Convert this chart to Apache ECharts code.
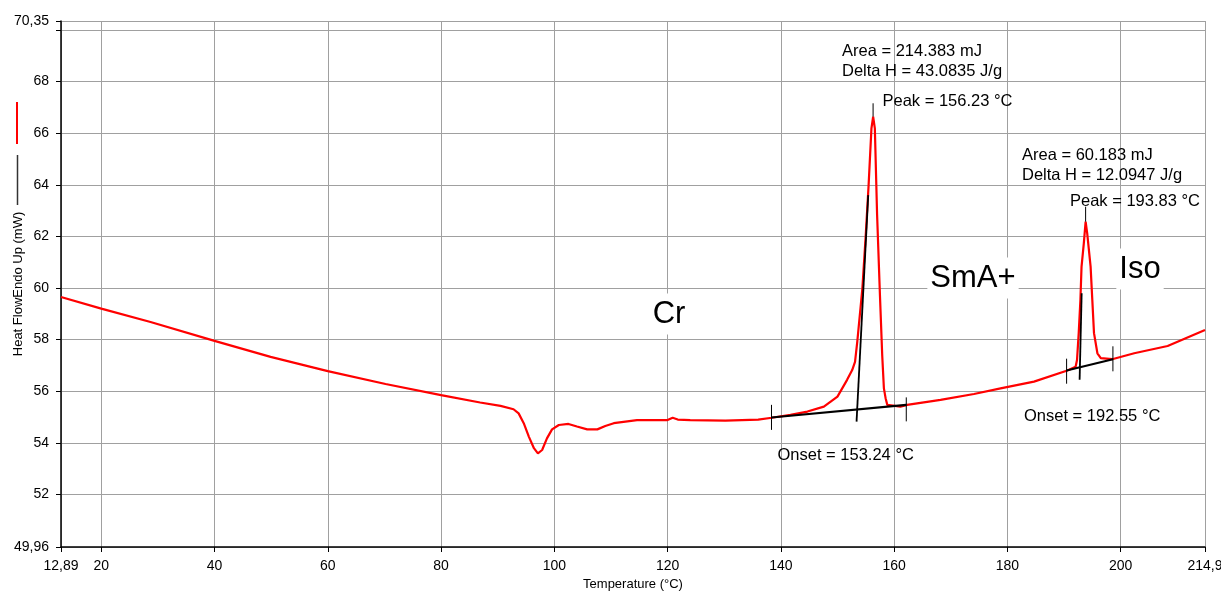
<!DOCTYPE html>
<html><head><meta charset="utf-8">
<script src="https://cdn.jsdelivr.net/npm/echarts@6/dist/echarts.min.js"></script>
<style>html,body{margin:0;padding:0;background:#fff}#c{width:1221px;height:595px}</style>
</head><body><div id="c"></div>
<script>
// DSC curve: temperature (°C) vs heat flow (mW)
const temperature = [12.89, 20, 28.7, 40, 49.9, 60, 70.2, 80, 86.9, 90.5, 92.8, 93.7, 94.6, 95.5, 96.4, 97.1, 97.85, 98.7, 99.6, 100.8,
  102.5, 104.0, 105.8, 107.6, 109.0, 110.5, 112.9, 114.6, 120, 120.9, 121.8, 124, 130.2, 136, 138.4, 141.7, 144.7, 147.6, 150.0, 151.7,
  152.6, 153.1, 153.5, 154.4, 154.96, 155.5, 156.0, 156.3, 156.6, 157.0, 157.5, 157.9, 158.2, 158.5, 158.8, 159.1, 161.1, 162.3, 168.2, 174.1,
  178.8, 184.7, 190.6, 192.05, 192.3, 192.6, 192.9, 193.1, 193.5, 193.82, 194.1, 194.7, 195.0, 195.3, 195.9, 196.5, 198.5, 202.4, 208.3, 214.9];
const heatFlow = [59.65, 59.2, 58.68, 57.95, 57.33, 56.78, 56.28, 55.85, 55.56, 55.43, 55.3, 55.14, 54.76, 54.24, 53.79, 53.59, 53.72, 54.17, 54.52, 54.69,
  54.73, 54.63, 54.52, 54.52, 54.65, 54.76, 54.83, 54.88, 54.88, 54.97, 54.9, 54.88, 54.86, 54.9, 54.97, 55.08, 55.21, 55.4, 55.79, 56.44,
  56.82, 57.14, 57.92, 59.99, 61.93, 63.99, 66.19, 66.64, 66.19, 62.83, 59.73, 57.4, 56.11, 55.73, 55.47, 55.4, 55.4, 55.47, 55.66, 55.89,
  56.11, 56.37, 56.8, 56.95, 57.21, 58.25, 59.54, 60.83, 61.73, 62.57, 62.12, 60.83, 59.54, 58.25, 57.47, 57.28, 57.24, 57.47, 57.75, 58.37];

// axis ticks
const xTickValues = [12.89, 20, 40, 60, 80, 100, 120, 140, 160, 180, 200, 214.9];
const yLabelValues = [49.96, 52, 54, 56, 58, 60, 62, 64, 66, 68, 70.35];
const yGridValues = [49.96, 52, 54, 56, 58, 60, 62, 64, 66, 68, 70, 70.35];

// analysis construction lines (black)
const baseline1T = [138.35, 162.15], baseline1V = [54.98, 55.47];
const tangent1T = [153.37, 155.43], tangent1V = [54.82, 63.6];
const baseline2T = [190.46, 198.64], baseline2V = [56.80, 57.24];
const tangent2T = [192.76, 193.12], tangent2V = [56.44, 59.8];
const limitT = [138.35, 162.15, 190.46, 198.64];
const limitTop = [55.47, 55.76, 57.26, 57.74];
const limitBottom = [54.5, 54.83, 56.29, 56.77];
const peakT = [156.29, 193.82];
const peakTop = [67.16, 63.15];
const peakBottom = [66.64, 62.57];

const fmt = v => String(v).replace('.', ',');
const FONT = 'Liberation Sans, Arial, sans-serif';

const zip = (a, b) => a.map((v, i) => [v, b[i]]);
const blackSeries = [];
function seg(data, w) {
  blackSeries.push({type: 'line', data: data, showSymbol: false, silent: true, animation: false,
    lineStyle: {color: '#000', width: w}, z: 3});
}
seg(zip(baseline1T, baseline1V), 2.2);
seg(zip(tangent1T, tangent1V), 1.8);
seg(zip(baseline2T, baseline2V), 2.2);
seg(zip(tangent2T, tangent2V), 1.8);
limitT.forEach((t, i) => seg([[t, limitTop[i]], [t, limitBottom[i]]], 1));
peakT.forEach((t, i) => seg([[t, peakTop[i]], [t, peakBottom[i]]], 1));

const chart = echarts.init(document.getElementById('c'), null, {renderer: 'canvas'});
const annot = (text, x, y, size) => ({type: 'text', z: 10, style: {text: text, x: x, y: y, fill: '#000',
  font: (size || 16.5) + 'px ' + FONT, textAlign: 'left', textVerticalAlign: 'middle'}});
const phase = (text, x, y) => ({type: 'text', z: 10, style: {text: text, x: x, y: y, fill: '#000',
  font: '31px ' + FONT, textAlign: 'center', textVerticalAlign: 'middle', backgroundColor: '#fff', padding: [5, 3]}});

chart.setOption({
  animation: false,
  backgroundColor: '#fff',
  grid: {left: 61, right: 16, top: 21, bottom: 48, containLabel: false, outerBoundsMode: 'none'},
  xAxis: {
    type: 'value', min: 12.89, max: 214.9,
    name: 'Temperature (°C)', nameLocation: 'middle', nameGap: 31, nameMoveOverlap: false,
    nameTextStyle: {fontFamily: FONT, fontSize: 13, color: '#000'},
    axisLine: {show: true, onZero: false, lineStyle: {color: '#000', width: 1.5}},
    axisTick: {show: true, customValues: xTickValues, length: 5, lineStyle: {color: '#000'}},
    axisLabel: {customValues: xTickValues, formatter: fmt, fontFamily: FONT, fontSize: 14, color: '#000', margin: 12, showMinLabel: true, showMaxLabel: true, hideOverlap: false},
    splitLine: {show: true, lineStyle: {color: '#a0a0a0', width: 1}}
  },
  yAxis: {
    type: 'value', min: 49.96, max: 70.35,
    name: 'Heat FlowEndo Up (mW)', nameLocation: 'middle', nameGap: 36, nameMoveOverlap: false,
    nameTextStyle: {fontFamily: FONT, fontSize: 13, color: '#000'},
    axisLine: {show: true, lineStyle: {color: '#000', width: 1.5}},
    axisTick: {show: true, customValues: yGridValues, length: 5, lineStyle: {color: '#000'}},
    axisLabel: {customValues: yLabelValues, formatter: fmt, fontFamily: FONT, fontSize: 14, color: '#000', margin: 12, showMinLabel: true, showMaxLabel: true, hideOverlap: false},
    splitLine: {show: true, lineStyle: {color: '#a0a0a0', width: 1}}
  },
  series: [{
    type: 'line', data: zip(temperature, heatFlow), showSymbol: false, silent: true,
    lineStyle: {color: '#ff0000', width: 2.2}, z: 2
  }].concat(blackSeries),
  graphic: [
    {type: 'line', shape: {x1: 17, y1: 102, x2: 17, y2: 144}, style: {stroke: '#ff0000', lineWidth: 2}},
    {type: 'line', shape: {x1: 17.5, y1: 155, x2: 17.5, y2: 205}, style: {stroke: '#333', lineWidth: 1.5}},
    annot('Area = 214.383 mJ', 842, 51),
    annot('Delta H = 43.0835 J/g', 842, 71.5),
    annot('Peak = 156.23 °C', 882.5, 101),
    annot('Area = 60.183 mJ', 1022, 155),
    annot('Delta H = 12.0947 J/g', 1022, 175.5),
    annot('Peak = 193.83 °C', 1070, 201.5),
    annot('Onset = 153.24 °C', 777.5, 455),
    annot('Onset = 192.55 °C', 1024, 416.5),
    phase('Cr', 669, 314),
    phase('SmA+', 973, 278),
    phase('Iso', 1140, 269)
  ]
});
</script></body></html>
